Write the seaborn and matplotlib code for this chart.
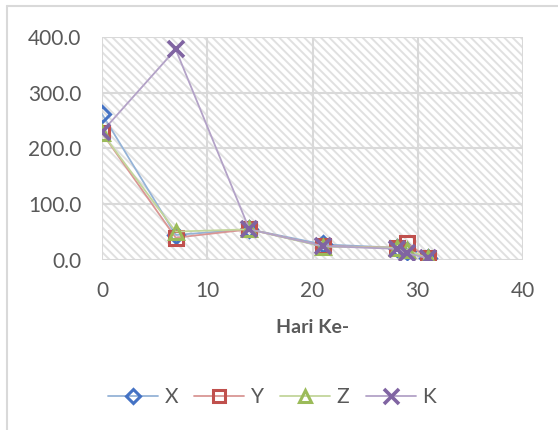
import seaborn as sns
import matplotlib.pyplot as plt
from matplotlib.patches import Rectangle
from matplotlib.lines import Line2D
from matplotlib.ticker import FormatStrFormatter

days = [0, 7, 14, 21, 28, 29, 31]
series_names = ['X', 'Y', 'Z', 'K']
x_vals = [262, 45, 55, 28, 22, 16, 3]
y_vals = [228, 40, 55, 25, 22, 30, 3]
z_vals = [228, 51, 55, 24, 22, 18, 3]
k_vals = [230, 378, 55, 25, 20, 12, 3]

sns.set_style('white')
plt.rcParams['font.family'] = ['Lato', 'DejaVu Sans']
plt.rcParams['hatch.color'] = '#e0e0e0'
plt.rcParams['hatch.linewidth'] = 1.4

txt = '#595959'
grid_c = '#d9d9d9'

styles = [
    ('#4472C4', '#95B3D7', 'D', 8),
    ('#C0504D', '#D99694', 's', 10),
    ('#9BBB59', '#C3D69B', '^', 10),
    ('#8064A2', '#B3A2C7', 'x', 12),
]

fig = plt.figure(figsize=(5.58, 4.3), dpi=100)
ax = fig.add_axes([102 / 558, 1 - 260 / 430, 421 / 558, 223 / 430])

# hatched plot area
ax.add_patch(Rectangle((0, 0), 1, 1, transform=ax.transAxes, facecolor='white',
                       edgecolor='#e0e0e0', linewidth=0, hatch='\\\\\\\\', zorder=0))

handles = []
for name, vals, (dark, light, m, ms) in zip(series_names, [x_vals, y_vals, z_vals, k_vals], styles):
    mew = 2.6 if m == 'x' else 2.2
    sns.lineplot(x=days, y=vals, ax=ax, color=light, linewidth=1.3, marker=m,
                 markersize=ms, markeredgecolor=dark, markerfacecolor='none',
                 markeredgewidth=mew, zorder=3)
    handles.append(Line2D([], [], color=light, linewidth=1.3, marker=m, markersize=ms * 0.9,
                          markeredgecolor=dark, markerfacecolor='none',
                          markeredgewidth=mew, label=name))

ax.set_xlim(0, 40)
ax.set_ylim(0, 400)
ax.set_xticks(range(0, 41, 10))
ax.set_yticks(range(0, 401, 100))
ax.yaxis.set_major_formatter(FormatStrFormatter('%.1f'))
ax.grid(True, color=grid_c, linewidth=1.5)
ax.set_axisbelow(True)
for s in ax.spines.values():
    s.set_visible(False)
ax.tick_params(length=0, labelsize=15, labelcolor=txt, pad=15)

ax.set_xlabel('Hari Ke-', fontsize=14, fontweight='bold', color=txt)
ax.xaxis.set_label_coords(0.5, -0.265)
ax.set_ylabel('')

fig.legend(handles=handles, loc='center', bbox_to_anchor=(272 / 558, 1 - 397 / 430),
           ncol=4, frameon=False, fontsize=15, labelcolor=txt, handlelength=2.4,
           handletextpad=0.3, columnspacing=0.8)

# chart border (top and left visible)
fig.add_artist(Line2D([7 / 558, 1], [1 - 6 / 430, 1 - 6 / 430], color=grid_c, linewidth=1.5,
                      transform=fig.transFigure))
fig.add_artist(Line2D([7 / 558, 7 / 558], [0, 1 - 6 / 430], color=grid_c, linewidth=1.5,
                      transform=fig.transFigure))

fig.savefig('out.png', dpi=100)
